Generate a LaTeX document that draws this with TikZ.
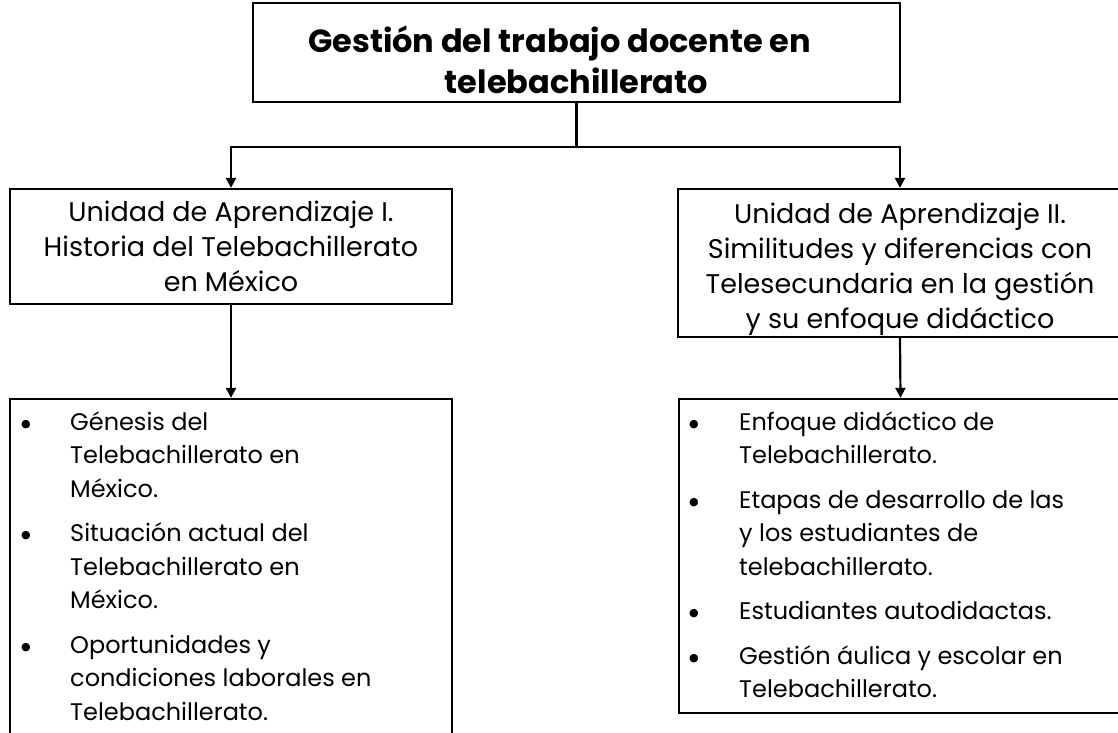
\documentclass[tikz,border=0pt]{standalone}
\usepackage{fontspec}
\setmainfont{Poppins}
\newfontfamily\dvfont{DejaVu Sans}
\newcommand\bul{\raisebox{3pt}{\dvfont\fontsize{11}{11}\selectfont ●}}
\usetikzlibrary{arrows.meta}
\begin{document}
\begin{tikzpicture}[x=1pt,y=-1pt,
  box/.style={draw=black,line width=2.3pt,rectangle,inner sep=0pt},
  arr/.style={line width=2.2pt,-{Triangle[length=10pt,width=10pt]}},
  conn/.style={line width=2.2pt},
  ttl/.style={font=\fontsize{32}{41}\selectfont\bfseries,align=center,inner sep=0pt},
  unit/.style={font=\fontsize{27}{35}\selectfont,align=center,inner sep=0pt},
  lst/.style={font=\fontsize{24}{33.5}\selectfont,anchor=north west,inner sep=0pt}]
\clip (0,0) rectangle (1118,732);
\fill[white] (0,0) rectangle (1118,732);
\node[box,minimum width=647pt,minimum height=99pt] (top) at (576.5,52.5) {};
\node[ttl] (topt) at (576.5,60) {Gestión del trabajo docente en\hspace*{34pt}\\telebachillerato};
\node[box,minimum width=442pt,minimum height=115pt] (l1) at (231,246.5) {};
\node[unit] (l1t) at (231,246) {Unidad de Aprendizaje I.\\Historia del Telebachillerato\\en México};
\node[box,minimum width=444pt,minimum height=148pt] (r1) at (900,263) {};
\node[unit] (r1t) at (900,269) {Unidad de Aprendizaje II.\\Similitudes y diferencias con\\Telesecundaria en la gestión\\y su enfoque didáctico};
\node[box,minimum width=442pt,minimum height=361pt] (l2) at (231,579.5) {};
\node[box,minimum width=443pt,minimum height=314pt] (r2) at (900.5,556) {};
\coordinate (j) at (576.5,147);
\draw[conn] (top.south) -- (j);
\draw[arr] (j) -| (l1.north);
\draw[arr] (j) -| (r1.north);
\draw[arr] (l1.south) -- (l2.north);
\draw[arr] (r1.south) -- (r2.north);
\node[lst] (l2t) at (21,406.5) {\begin{tabular}{@{}p{49pt}@{}l@{}}
\bul & Génesis del\\
 & Telebachillerato en\\
 & México.\\[11pt]
\bul & Situación actual del\\
 & Telebachillerato en\\
 & México.\\[11pt]
\bul & Oportunidades y\\
 & condiciones laborales en\\
 & Telebachillerato.
\end{tabular}};
\node[lst] (r2t) at (689,406.5) {\begin{tabular}{@{}p{50pt}@{}l@{}}
\bul & Enfoque didáctico de\\
 & Telebachillerato.\\[11pt]
\bul & Etapas de desarrollo de las\\
 & y los estudiantes de\\
 & telebachillerato.\\[11pt]
\bul & Estudiantes autodidactas.\\[11pt]
\bul & Gestión áulica y escolar en\\
 & Telebachillerato.
\end{tabular}};
\end{tikzpicture}
\end{document}
